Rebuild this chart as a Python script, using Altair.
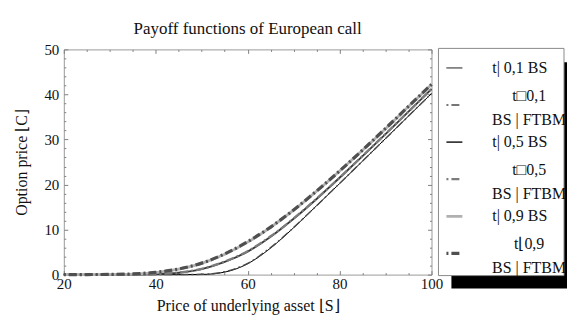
import altair as alt
import pandas as pd

FONT = "Liberation Serif"

# ---- data ----
S = [20, 25, 30, 35, 40, 45, 50, 55, 60, 65, 70, 75, 80, 85, 90, 95, 100]
bs_t01 = [0, 0, 0, 0, 0, 0, 0.03, 0.55, 2.4, 5.9, 10.4, 15.3, 20.2, 25.2, 30.2, 35.2, 40.2]
ftbm_t01 = [0, 0, 0, 0, 0, 0.01, 0.06, 0.65, 2.5, 6.0, 10.45, 15.3, 20.25, 25.2, 30.2, 35.2, 40.2]
bs_t05 = [0, 0, 0, 0.01, 0.1, 0.4, 1.2, 2.8, 5.1, 8.4, 12.4, 16.8, 21.5, 26.3, 31.2, 36.2, 41.2]
ftbm_t05 = [0, 0, 0, 0.02, 0.13, 0.45, 1.25, 2.9, 5.2, 8.5, 12.45, 16.85, 21.5, 26.35, 31.25, 36.2, 41.2]
bs_t09 = [0, 0, 0.03, 0.13, 0.45, 1.2, 2.5, 4.5, 7.2, 10.5, 14.3, 18.5, 23.0, 27.6, 32.4, 37.3, 42.2]
ftbm_t09 = [0, 0.01, 0.05, 0.16, 0.5, 1.25, 2.55, 4.6, 7.3, 10.55, 14.35, 18.55, 23.0, 27.65, 32.45, 37.35, 42.25]

names = ["t01_BS", "t01_FTBM", "t05_BS", "t05_FTBM", "t09_BS", "t09_FTBM"]
kinds = ["BS", "FTBM", "BS", "FTBM", "BS", "FTBM"]
labels = ["t| 0,1 BS", "t\u25a10,1\nBS | FTBM", "t| 0,5 BS", "t\u25a10,5\nBS | FTBM",
          "t| 0,9 BS", "t\u230a0,9\nBS | FTBM"]
series_values = [bs_t01, ftbm_t01, bs_t05, ftbm_t05, bs_t09, ftbm_t09]

colors = ["#000000", "#4a4a4a", "#3a3a3a", "#7c7c7c", "#b0b0b0", "#4f4f4f"]
widths = [1.0, 3.2, 0.8, 3.2, 1.0, 3.2]
dashes = [[1, 0], [2, 3, 8, 3], [1, 0], [2, 3, 8, 3], [1, 0], [2, 3, 8, 3]]

x_major = [20, 40, 60, 80, 100]
x_minor = [25, 30, 35, 45, 50, 55, 65, 70, 75, 85, 90, 95]
y_major = [0, 10, 20, 30, 40, 50]
y_minor = [2, 4, 6, 8, 12, 14, 16, 18, 22, 24, 26, 28, 32, 34, 36, 38, 42, 44, 46, 48]

rows = []
for n, k, vals in zip(names, kinds, series_values):
    for s, v in zip(S, vals):
        rows.append({"S": s, "V": v, "series": n, "kind": k})
df = pd.DataFrame(rows)
df_bs = df[df.kind == "BS"]
df_ft = df[df.kind == "FTBM"]

xs = alt.Scale(domain=[20, 100], nice=False, zero=False)
ys = alt.Scale(domain=[0, 50], nice=False, zero=False)
color = alt.Color("series:N", scale=alt.Scale(domain=names, range=colors), legend=None)
swidth = alt.StrokeWidth("series:N", scale=alt.Scale(domain=names, range=widths), legend=None)
sdash = alt.StrokeDash("series:N", scale=alt.Scale(domain=names, range=dashes), legend=None)


def ax(orient, values, size, **kw):
    return alt.Axis(orient=orient, values=values, tickSize=size, offset=-size,
                    domain=False, grid=False, tickColor="#808080", tickWidth=1, **kw)


x_main = alt.X("S:Q", scale=xs, title="Price of underlying asset \u230aS\u230b",
               axis=ax("bottom", x_major, 4, labels=True, labelFont=FONT, labelFontSize=15,
                       labelColor="#111", labelPadding=2, labelFlush=False,
                       titleFont=FONT, titleFontSize=16, titleFontWeight="normal",
                       titleColor="#111", titlePadding=6))
y_main = alt.Y("V:Q", scale=ys, title="Option price \u230aC\u230b",
               axis=ax("left", y_major, 4, labels=True, labelFont=FONT, labelFontSize=15,
                       labelColor="#111", labelPadding=5, labelFlush=False,
                       titleFont=FONT, titleFontSize=16, titleFontWeight="normal",
                       titleColor="#111", titlePadding=14))

bs_layer = alt.Chart(df_bs).mark_line(interpolate="monotone").encode(
    x=x_main, y=y_main, color=color, strokeWidth=swidth)

ft_layer = alt.Chart(df_ft).mark_line(interpolate="monotone", strokeCap="butt").encode(
    x=alt.X("S:Q", scale=xs, title=None, axis=ax("top", x_major, 4, labels=False)),
    y=alt.Y("V:Q", scale=ys, title=None, axis=ax("right", y_major, 4, labels=False)),
    color=color, strokeWidth=swidth, strokeDash=sdash)

minor1 = alt.Chart(df_bs).mark_line(opacity=0).encode(
    x=alt.X("S:Q", scale=xs, title=None, axis=ax("bottom", x_minor, 2, labels=False)),
    y=alt.Y("V:Q", scale=ys, title=None, axis=ax("left", y_minor, 2, labels=False)))
minor2 = alt.Chart(df_bs).mark_line(opacity=0).encode(
    x=alt.X("S:Q", scale=xs, title=None, axis=ax("top", x_minor, 2, labels=False)),
    y=alt.Y("V:Q", scale=ys, title=None, axis=ax("right", y_minor, 2, labels=False)))

main = alt.layer(bs_layer, ft_layer, minor1, minor2).resolve_axis(
    x="independent", y="independent"
).properties(
    width=369, height=226,
    title=alt.TitleParams("Payoff functions of European call", font=FONT, fontSize=17,
                          fontWeight="normal", color="#111", anchor="middle", offset=4),
    view=alt.ViewBackground(stroke="#9a9a9a", strokeWidth=1),
)

# ---- legend panel ----
df_leg = pd.DataFrame({"series": names, "row": list(range(6)), "label": labels, "kind": kinds})
df_one = pd.DataFrame({"a": [0]})
ly = alt.Y("row:Q", scale=alt.Scale(domain=[-0.5, 5.6], reverse=True, nice=False, zero=False),
           axis=None)

shadow = alt.Chart(df_one).mark_rect(color="black").encode(
    x=alt.value(13), x2=alt.value(129), y=alt.value(13), y2=alt.value(240))
box = alt.Chart(df_one).mark_rect(fill="white", stroke="#8a8a8a", strokeWidth=1).encode(
    x=alt.value(0), x2=alt.value(126), y=alt.value(-1), y2=alt.value(227))
sym = alt.Chart(df_leg).mark_rule(strokeCap="butt").encode(
    x=alt.value(8), x2=alt.value(24), y=ly, color=color, strokeWidth=swidth, strokeDash=sdash)
txt_bs = alt.Chart(df_leg).transform_filter("datum.kind == 'BS'").mark_text(
    align="left", baseline="middle", font=FONT, fontSize=16, color="#111").encode(
    x=alt.value(54), y=ly, text="label:N")
txt_ft = alt.Chart(df_leg).transform_filter("datum.kind == 'FTBM'").mark_text(
    align="center", baseline="middle", font=FONT, fontSize=16, color="#111",
    lineBreak="\n", lineHeight=24, dy=-9).encode(
    x=alt.value(91), y=ly, text="label:N")

legend_panel = alt.layer(shadow, box, sym, txt_bs, txt_ft).properties(
    width=126, height=227, view=alt.ViewBackground(stroke="transparent"))

chart = alt.hconcat(main, legend_panel, spacing=7, bounds="flush").properties(
    padding={"left": 5, "top": 11, "right": 0, "bottom": 0},
    background="white",
).configure(font=FONT)

chart.save("out.html", embed_options={"renderer": "svg", "actions": False})
